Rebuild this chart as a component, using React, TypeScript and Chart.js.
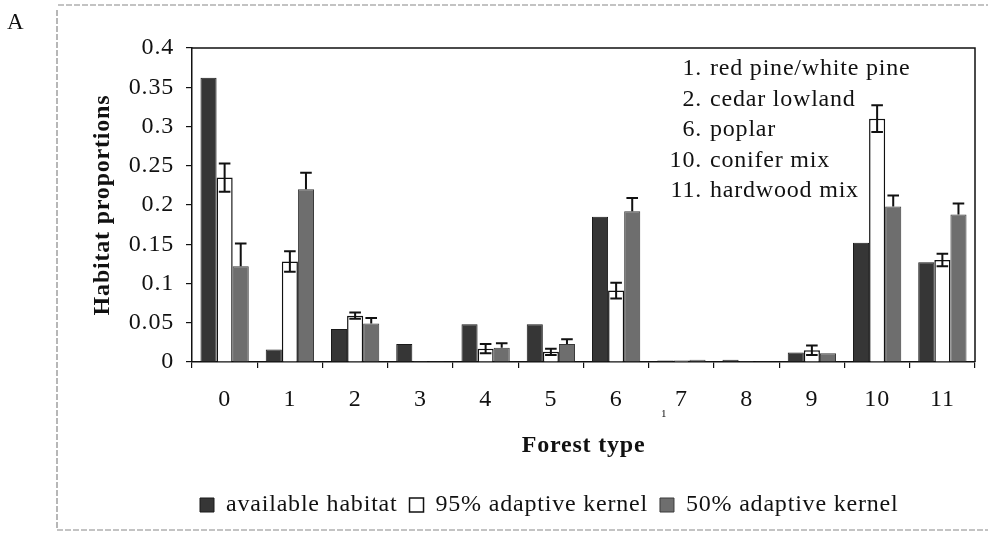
import React, { useEffect, useRef } from "react";
import { Chart, registerables } from "chart.js";

Chart.register(...registerables);

// ---- data ----
const categories = ["0", "1", "2", "3", "4", "5", "6", "7", "8", "9", "10", "11"];
const availableHabitat = [0.362, 0.016, 0.042, 0.023, 0.048, 0.048, 0.185, 0.002, 0.003, 0.012, 0.152, 0.127];
const kernel95 = [0.235, 0.128, 0.059, 0.001, 0.017, 0.013, 0.091, 0.002, 0.001, 0.015, 0.31, 0.13];
const kernel95Err = [0.018, 0.013, 0.004, 0, 0.006, 0.004, 0.01, 0, 0, 0.006, 0.017, 0.008];
const kernel50 = [0.122, 0.22, 0.049, 0.001, 0.018, 0.023, 0.192, 0.003, 0.001, 0.011, 0.198, 0.188];
const kernel50Err = [0.029, 0.021, 0.007, 0, 0.006, 0.006, 0.017, 0, 0, 0, 0.014, 0.014];
const yTickLabels = ["0", "0.05", "0.1", "0.15", "0.2", "0.25", "0.3", "0.35", "0.4"];
const seriesNames = ["available habitat", "95% adaptive kernel", "50% adaptive kernel"];
const noteNumbers = ["1.", "2.", "6.", "10.", "11."];
const noteNames = ["red pine/white pine", "cedar lowland", "poplar", "conifer mix", "hardwood mix"];
const xTitle = "Forest type";
const yTitle = "Habitat proportions";
const panelLetter = "A";

const FONT = "'Liberation Serif', 'Times New Roman', serif";
const FS = 24;
const LS = "0.8px";
const INK = "#111";

const spacingPlugin = {
  id: "spacing",
  beforeUpdate(c: any) { c.ctx.letterSpacing = LS; },
  beforeDraw(c: any) { c.ctx.letterSpacing = LS; },
};

const legendShiftPlugin = {
  id: "legendShift",
  afterLayout(c: any) {
    const lg = c.legend;
    if (lg) {
      const pad = lg.options.labels.padding;
      lg.left = 200 - pad;
    }
  },
};

const errorBarPlugin = {
  id: "errorBars",
  afterDatasetsDraw(chart: any) {
    const ctx = chart.ctx;
    const ys = chart.scales.y;
    chart.data.datasets.forEach((ds: any, di: number) => {
      const errs = ds.errors;
      if (!errs) return;
      const meta = chart.getDatasetMeta(di);
      meta.data.forEach((bar: any, i: number) => {
        const e = errs[i];
        if (!e) return;
        const v = ds.data[i];
        const x = bar.x;
        const top = ys.getPixelForValue(v + e);
        const bottom = ds.errBoth ? ys.getPixelForValue(v - e) : bar.y;
        const half = bar.width * 0.36;
        ctx.save();
        ctx.strokeStyle = INK;
        ctx.lineWidth = 2;
        ctx.beginPath();
        ctx.moveTo(x, bottom);
        ctx.lineTo(x, top);
        ctx.moveTo(x - half, top);
        ctx.lineTo(x + half, top);
        if (ds.errBoth) {
          ctx.moveTo(x - half, bottom);
          ctx.lineTo(x + half, bottom);
        }
        ctx.stroke();
        ctx.restore();
      });
    });
  },
};

const decorPlugin = {
  id: "decor",
  afterDraw(chart: any) {
    const ctx = chart.ctx;
    const a = chart.chartArea;
    ctx.save();
    ctx.letterSpacing = LS;
    // plot box (top and right)
    ctx.strokeStyle = INK;
    ctx.lineWidth = 1.5;
    ctx.beginPath();
    ctx.moveTo(a.left, a.top);
    ctx.lineTo(a.right, a.top);
    ctx.lineTo(a.right, a.bottom);
    ctx.stroke();
    // outer frame
    ctx.strokeStyle = "#888";
    ctx.lineWidth = 1.2;
    ctx.setLineDash([6, 2]);
    ctx.beginPath();
    ctx.moveTo(58, 5);
    ctx.lineTo(988, 5);
    ctx.moveTo(57, 10);
    ctx.lineTo(57, 530);
    ctx.moveTo(57, 530);
    ctx.lineTo(988, 530);
    ctx.stroke();
    ctx.setLineDash([]);
    // notes
    ctx.fillStyle = INK;
    ctx.font = `${FS}px ${FONT}`;
    ctx.textBaseline = "alphabetic";
    noteNumbers.forEach((n, i) => {
      const y = 75 + i * 30.5;
      ctx.textAlign = "right";
      ctx.fillText(n, 702, y);
      ctx.textAlign = "left";
      ctx.fillText(noteNames[i], 710, y);
    });
    // panel letter
    ctx.font = `23px ${FONT}`;
    ctx.textAlign = "left";
    ctx.fillText(panelLetter, 7, 29);
    // small stray mark
    ctx.font = `11px ${FONT}`;
    ctx.fillText("1", 661, 417);
    ctx.restore();
  },
};

export default function App() {
  const ref = useRef<HTMLCanvasElement | null>(null);
  useEffect(() => {
    document.body.style.margin = "0";
    const canvas = ref.current;
    if (!canvas) return;
    const font = { family: FONT, size: FS };
    const chart = new Chart(canvas, {
      type: "bar",
      data: {
        labels: categories,
        datasets: [
          {
            label: seriesNames[0],
            data: availableHabitat,
            backgroundColor: "#363636",
            borderColor: "#1a1a1a",
            borderWidth: 1,
          },
          {
            label: seriesNames[1],
            data: kernel95,
            backgroundColor: "#ffffff",
            borderColor: INK,
            borderWidth: 1.5,
            errors: kernel95Err,
            errBoth: true,
          } as any,
          {
            label: seriesNames[2],
            data: kernel50,
            backgroundColor: "#6e6e6e",
            borderColor: "#3a3a3a",
            borderWidth: 1,
            errors: kernel50Err,
            errBoth: false,
          } as any,
        ],
      },
      options: {
        responsive: false,
        animation: false,
        devicePixelRatio: 1,
        datasets: { bar: { categoryPercentage: 0.74, barPercentage: 1 } },
        layout: { padding: { top: 48, right: 13, bottom: 7, left: 0 } },
        plugins: {
          legend: {
            position: "bottom",
            align: "start",
            labels: {
              font,
              color: INK,
              boxWidth: 14,
              boxHeight: 14,
              padding: 12,
            },
          },
          tooltip: { enabled: false },
        },
        scales: {
          x: {
            grid: { offset: true, drawOnChartArea: false, drawTicks: true, tickLength: 6, color: INK, lineWidth: 1.2 },
            border: { display: true, color: INK, width: 1.5 },
            ticks: { font, color: INK, padding: 17.6 },
            title: {
              display: true,
              text: xTitle,
              color: INK,
              font: { family: FONT, size: FS, weight: "bold" },
              padding: { top: 0, bottom: 20.6 },
            },
            afterFit: (s: any) => { s.height = 119; },
          },
          y: {
            min: 0,
            max: 0.4,
            grid: { drawOnChartArea: false, drawTicks: true, tickLength: 6, color: INK, lineWidth: 1.2 },
            border: { display: true, color: INK, width: 1.5 },
            ticks: {
              stepSize: 0.05,
              font,
              color: INK,
              padding: 12,
              callback: (_v: any, i: number) => yTickLabels[i],
            },
            title: {
              display: true,
              text: yTitle,
              color: INK,
              font: { family: FONT, size: FS, weight: "bold" },
              padding: { top: 88.6, bottom: 0 },
            },
            afterFit: (s: any) => { s.width = 192; },
          },
        },
      } as any,
      plugins: [spacingPlugin, legendShiftPlugin, errorBarPlugin, decorPlugin],
    });
    return () => chart.destroy();
  }, []);
  return (
    <div style={{ width: 988, height: 534, background: "#fff" }}>
      <canvas ref={ref} width={988} height={534} style={{ width: 988, height: 534 }} />
    </div>
  );
}
